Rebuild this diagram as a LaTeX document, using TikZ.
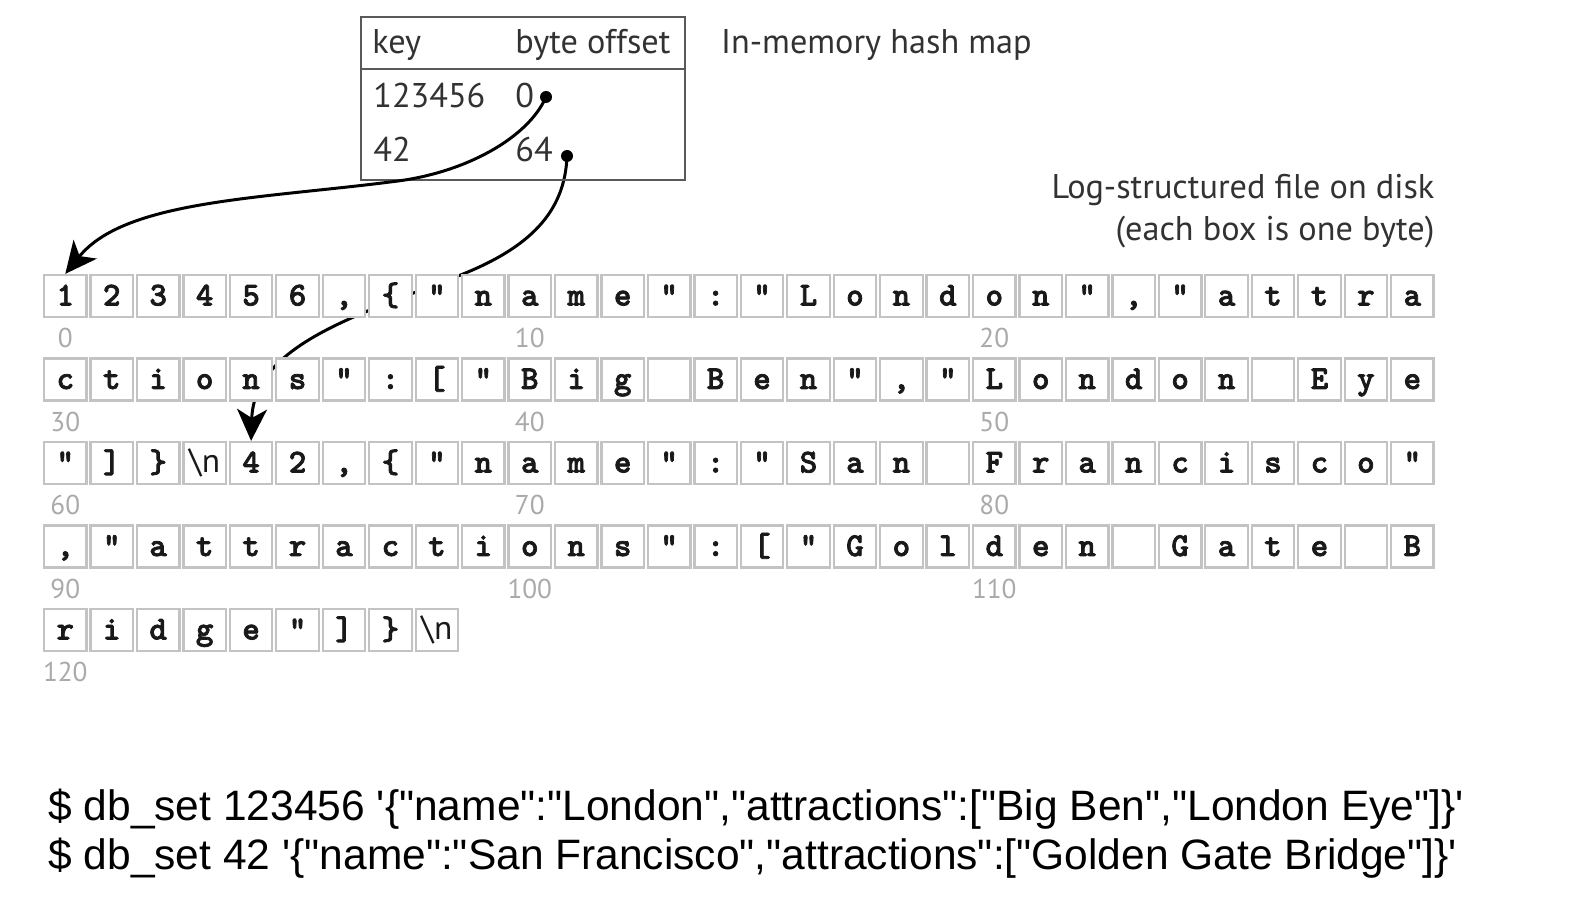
\documentclass[tikz,border=0pt]{standalone}
\usepackage{fontspec}
\usepackage{tikz}
\usetikzlibrary{positioning,arrows.meta,backgrounds}
\newfontfamily\lblfont{PT Sans}
\newfontfamily\cmdfont{Liberation Sans}
\newfontfamily\bytefont{lmmonolt10-bold}[Extension=.otf, FakeBold=2.2]
\definecolor{inkgrey}{RGB}{50,50,50}
\definecolor{idxgrey}{RGB}{170,170,170}
\definecolor{boxgrey}{RGB}{195,195,195}
\def\bsn{{\lblfont\textbackslash n}}
\tikzset{bytebox/.style={rectangle, draw=boxgrey, fill=white, line width=1.3pt,
  minimum width=0.85cm, minimum height=0.84cm, inner sep=0pt, text height=14pt, text depth=3.2pt,
  font=\bytefont\fontsize{19pt}{19pt}\selectfont, text=black!90}}
\tikzset{idxlbl/.style={inner sep=0pt, text=idxgrey, font=\lblfont\fontsize{15.5pt}{15.5pt}\selectfont}}
\tikzset{lbl/.style={inner sep=0pt, text=inkgrey, font=\lblfont\fontsize{19.5pt}{23pt}\selectfont}}
\tikzset{tblbox/.style={rectangle, draw=black!65, line width=1.1pt, inner sep=0pt}}
\tikzset{tblline/.style={draw=black!65, line width=1.1pt}}
\tikzset{ptrdot/.style={circle, fill=black, inner sep=0pt, minimum size=0.24cm}}
\tikzset{ptrline/.style={line width=1.7pt, black}}
\tikzset{cmdline/.style={inner sep=0pt, anchor=base west, font=\cmdfont\fontsize{24.2pt}{24.2pt}\selectfont}}

\begin{document}
\begin{tikzpicture}[x=0.02cm, y=-0.02cm, >={Stealth[length=18pt, width=17pt, inset=5pt]}]
  \useasboundingbox (0,0) rectangle (1596,898);
  % hash map
  \node[tblbox, minimum width=6.48cm, minimum height=3.26cm] (hash) at (523,98.5) {};
  \coordinate (hdsep) at (0,69);
  \draw[tblline] (hash.west |- hdsep) -- (hash.east |- hdsep);
  \node[lbl, anchor=base west] (keyhd) at (372,54) {key};
  \node[lbl, anchor=base west] (offhd) at (515,54) {byte offset};
  \node[lbl, anchor=base west] (k1) at (373,108) {123456};
  \node[lbl, anchor=base west] (o1) at (515,108) {0};
  \node[lbl, anchor=base west] (k2) at (373,162) {42};
  \node[lbl, anchor=base west] (o2) at (515,162) {64};
  \node[ptrdot] (d0) at (546,97) {};
  \node[ptrdot] (d64) at (567,156) {};
  \node[lbl, base right=1.0cm of offhd] (maplbl) {In-memory hash map};

  % log file, one box per byte
  \foreach \c [count=\k from 0] in {1,2,3,4,5,6,{,},\{,",n,a,m,e,",:,",L,o,n,d,o,n,",{,},",a,t,t,r,a}
    \node[bytebox] (b\k) at (65.3+46.45*\k, 296) {\c};
  \foreach \c [count=\k from 30] in {c,t,i,o,n,s,",:,{[},",B,i,g,{},B,e,n,",{,},",L,o,n,d,o,n,{},E,y,e}
    \node[bytebox] (b\k) at (65.3+46.45*\k-1393.5, 379.5) {\c};
  \foreach \c [count=\k from 60] in {",{]},\},\bsn,4,2,{,},\{,",n,a,m,e,",:,",S,a,n,{},F,r,a,n,c,i,s,c,o,"}
    \node[bytebox] (b\k) at (65.3+46.45*\k-2787, 463) {\c};
  \foreach \c [count=\k from 90] in {{,},",a,t,t,r,a,c,t,i,o,n,s,",:,{[},",G,o,l,d,e,n,{},G,a,t,e,{},B}
    \node[bytebox] (b\k) at (65.3+46.45*\k-4180.5, 546.5) {\c};
  \foreach \c [count=\k from 120] in {r,i,d,g,e,",{]},\},\bsn}
    \node[bytebox] (b\k) at (65.3+46.45*\k-5574, 630) {\c};
  \foreach \k in {0,10,...,120}
    \node[idxlbl, below=0.2cm of b\k] (i\k) {\k};

  \node[lbl, anchor=base east] (log2) at ([yshift=0.66cm]b29.north east) {(each box is one byte)};
  \node[lbl, anchor=base east] (log1) at ([yshift=0.84cm]log2.base east) {Log-structured file on disk};

  % pointers
  \begin{scope}[on background layer]
    \fill[white] (0,0) rectangle (1596,898);
    \draw[->, ptrline] (d64.center) .. controls (565,212) and (530,248) .. (458,276)
      .. controls (358,315) and (254,345) .. (b64.north);
  \end{scope}
  \draw[->, ptrline] (d0.center) .. controls (528,138) and (466,172) .. (398,181)
    .. controls (260,199) and (125,200) .. (b0.north);

  % commands
  \node[cmdline] (cmd1) at (48,820) {\$ db\_set 123456 \textquotesingle\{"name":"London","attractions":["Big Ben","London Eye"]\}\textquotesingle};
  \node[cmdline] (cmd2) at ([yshift=-1cm]cmd1.base west) {\$ db\_set 42 \textquotesingle\{"name":"San Francisco","attractions":["Golden Gate Bridge"]\}\textquotesingle};
\end{tikzpicture}
\end{document}
